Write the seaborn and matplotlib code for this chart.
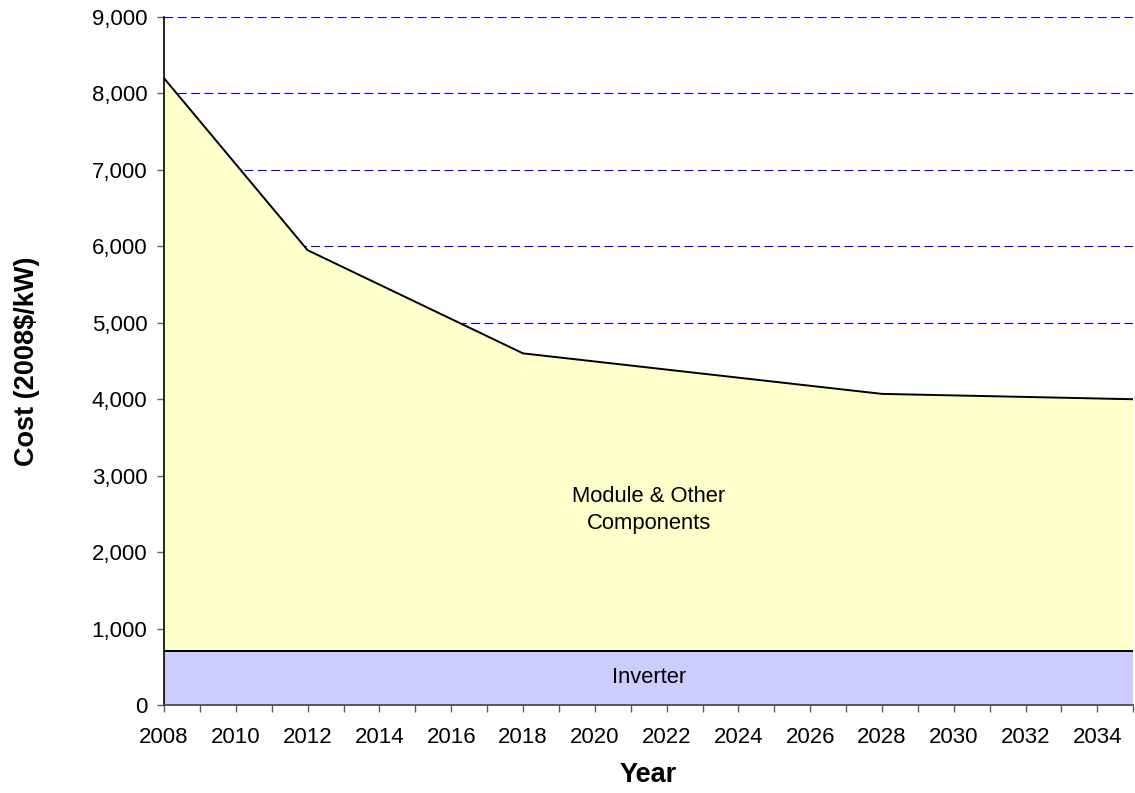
import matplotlib
matplotlib.use("Agg")
import matplotlib.pyplot as plt
import matplotlib.ticker as mticker
import seaborn as sns
import pandas as pd

years = [2008, 2012, 2018, 2028, 2035]
inverter = [700, 700, 700, 700, 700]
module_other = [7500, 5250, 3900, 3370, 3300]
total = [i + m for i, m in zip(inverter, module_other)]
x_tick_years = list(range(2008, 2036))
x_label_years = list(range(2008, 2035, 2))
y_ticks = list(range(0, 9001, 1000))

df = pd.DataFrame({"Year": years, "Inverter": inverter, "Total": total})

sns.set_style("white")
plt.rcParams["font.family"] = ["Liberation Sans", "DejaVu Sans"]
plt.rcParams["text.color"] = "black"
plt.rcParams["axes.labelcolor"] = "black"

fig = plt.figure(figsize=(11.35, 7.93), dpi=100)
ax = fig.add_axes([0.1445, 0.111, 0.854, 0.8675])

ax.set_axisbelow(True)
for yv in y_ticks[1:]:
    ax.axhline(yv, color="#0000FF", lw=0.8, linestyle=(0, (8, 4)), zorder=0.5)

ax.fill_between(df["Year"], 0, df["Inverter"], color="#CCCCFF", zorder=1, lw=0)
ax.fill_between(df["Year"], df["Inverter"], df["Total"], color="#FFFFCC", zorder=1, lw=0)
sns.lineplot(data=df, x="Year", y="Total", color="black", lw=1.4, ax=ax, zorder=3)
sns.lineplot(data=df, x="Year", y="Inverter", color="black", lw=1.4, ax=ax, zorder=3)

ax.set_xlim(2008, 2035)
ax.set_ylim(0, 9000)
ax.set_xticks(x_tick_years)
ax.set_xticklabels([str(y) if y in x_label_years else "" for y in x_tick_years])
ax.set_yticks(y_ticks)
ax.yaxis.set_major_formatter(mticker.FuncFormatter(lambda v, p: f"{int(v):,}"))

for s in ["top", "right"]:
    ax.spines[s].set_visible(False)
ax.spines["left"].set_color("black")
ax.spines["bottom"].set_color("#404040")
ax.spines["left"].set_linewidth(1.2)
ax.spines["bottom"].set_linewidth(1.2)
ax.tick_params(axis="both", which="both", direction="out", length=5, width=1,
               color="#606060", labelsize=16, labelcolor="black")
ax.tick_params(axis="y", left=True, pad=7)
ax.tick_params(axis="x", bottom=True, pad=11)

ax.set_xlabel("Year", fontsize=19.5, fontweight="bold", labelpad=10, color="black")
ax.set_ylabel("Cost (2008$/kW)", fontsize=19.5, fontweight="bold", labelpad=37, color="black")

ax.text(2021.5, 2550, "Module & Other\nComponents", ha="center", va="center",
        fontsize=15.8, linespacing=1.35, color="black")
ax.text(2021.5, 355, "Inverter", ha="center", va="center", fontsize=15.8, color="black")

fig.savefig("out.png", dpi=100)
